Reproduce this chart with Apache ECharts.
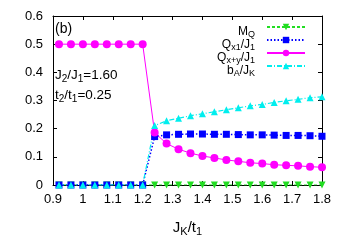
<!DOCTYPE html>
<html><head><meta charset="utf-8">
<script src="https://cdn.jsdelivr.net/npm/echarts@6/dist/echarts.min.js"></script>
<style>html,body{margin:0;padding:0;background:#fff}#c{width:346px;height:242px}</style>
</head><body><div id="c"></div>
<script>
var jk = [0.92,0.96,1.00,1.04,1.08,1.12,1.16,1.20,1.24,1.28,1.32,1.36,1.40,1.44,1.48,1.52,1.56,1.60,1.64,1.68,1.72,1.76,1.80];
var mQ = [0,0,0,0,0,0,0,0,0,0,0,0,0,0,0,0,0,0,0,0,0,0,0];
var qx1 = [0,0,0,0,0,0,0,0,0.172,0.178,0.180,0.181,0.181,0.180,0.180,0.179,0.178,0.178,0.177,0.176,0.176,0.175,0.173];
var qxy = [0.5,0.5,0.5,0.5,0.5,0.5,0.5,0.5,0.186,0.147,0.127,0.113,0.103,0.096,0.089,0.084,0.079,0.076,0.072,0.070,0.068,0.065,0.063];
var bA = [0,0,0,0,0,0,0,0,0.211,0.228,0.237,0.246,0.253,0.260,0.267,0.274,0.281,0.286,0.293,0.299,0.304,0.310,0.313];
var xTicks = {min:0.9, max:1.8, interval:0.1};
var yTicks = {min:0, max:0.6, interval:0.1};
var names = ['{n|M}{s|Q}','{n|Q}{s|x1}{n|/J}{s|1}','{n|Q}{s|x+y}{n|/J}{s|1}','{n|b}{s|A}{n|/J}{s|K}'];

function pairs(ys){ return jk.map(function(x,i){return [x, ys[i]];}); }
var FONT = 'Liberation Sans';
function mkRich(fs, sfs, drop){
  return {
    n:{fontSize:fs, lineHeight:fs, fontFamily:FONT, color:'#000', verticalAlign:'middle', padding:[1,0,0,0]},
    s:{fontSize:sfs, lineHeight:sfs, fontFamily:FONT, color:'#000', verticalAlign:'middle', padding:[drop,0,0,0]}
  };
}
var legRich = mkRich(12, 9, 7);
var txtRich = mkRich(13.5, 10, 8);
var chart = echarts.init(document.getElementById('c'), null, {renderer:'canvas'});
var series = [
  {name:names[0], type:'line', data:pairs(mQ), color:'#22dd22', symbol:'triangle', symbolRotate:180, symbolSize:7,
   lineStyle:{type:[3,2], width:1.2}},
  {name:names[1], type:'line', data:pairs(qx1), color:'#0000ff', symbol:'rect', symbolSize:7,
   lineStyle:{type:[1.5,2], width:1.5}},
  {name:names[2], type:'line', data:pairs(qxy), color:'#ff00ff', symbol:'circle', symbolSize:8,
   lineStyle:{type:'solid', width:1}},
  {name:names[3], type:'line', data:pairs(bA), color:'#00eeee', symbol:'triangle', symbolSize:7,
   lineStyle:{type:[5,2,1,2], width:1.2}}
];
series.forEach(function(s){ s.animation=false; s.showSymbol=true; s.symbolKeepAspect=true; s.itemStyle={opacity:1}; });
var legends = names.map(function(n,i){
  return {show:true, data:[n], orient:'vertical', right:40, top:23+i*13, align:'right',
    itemWidth:38, itemHeight:8, itemGap:0, padding:0, selectedMode:false,
    textStyle:{fontFamily:FONT, fontSize:12, color:'#000', rich:legRich, padding:[8,7,0,0]}};
});
chart.setOption({
  animation:false,
  backgroundColor:'#fff',
  grid:{left:53, right:24, top:16, bottom:57, containLabel:false, outerBoundsMode:'none'},
  legend:legends,
  xAxis:[
    {type:'value', min:xTicks.min, max:xTicks.max, interval:xTicks.interval, position:'bottom',
     axisLine:{show:true, onZero:false, lineStyle:{color:'#000', width:1}},
     axisTick:{show:true, inside:true, length:4, lineStyle:{color:'#000'}},
     axisLabel:{fontFamily:FONT, fontSize:13, color:'#000', margin:8},
     splitLine:{show:false},
     name:'{n|J}{s|K}{n|/t}{s|1}', nameLocation:'middle', nameGap:35,
     nameTextStyle:{fontFamily:FONT, fontSize:15, color:'#000', rich:mkRich(15, 11, 9)}},
    {type:'value', min:xTicks.min, max:xTicks.max, interval:xTicks.interval, position:'top',
     axisLine:{show:true, onZero:false, lineStyle:{color:'#000', width:1}},
     axisTick:{show:true, inside:true, length:4, lineStyle:{color:'#000'}},
     axisLabel:{show:false}, splitLine:{show:false}}
  ],
  yAxis:[
    {type:'value', min:yTicks.min, max:yTicks.max, interval:yTicks.interval, position:'left',
     axisLine:{show:true, onZero:false, lineStyle:{color:'#000', width:1}},
     axisTick:{show:true, inside:true, length:4, lineStyle:{color:'#000'}},
     axisLabel:{fontFamily:FONT, fontSize:13, color:'#000', margin:10,
       formatter:function(v){ return v===0 ? '0' : v.toFixed(1); }},
     splitLine:{show:false}},
    {type:'value', min:yTicks.min, max:yTicks.max, interval:yTicks.interval, position:'right',
     axisLine:{show:true, onZero:false, lineStyle:{color:'#000', width:1}},
     axisTick:{show:true, inside:true, length:4, lineStyle:{color:'#000'}},
     axisLabel:{show:false}, splitLine:{show:false}}
  ],
  graphic:[
    {type:'text', left:55, top:22, style:{text:'(b)', fontFamily:FONT, fontSize:14, fill:'#000'}},
    {type:'text', left:55, top:66, style:{text:'{n|J}{s|2}{n|/J}{s|1}{n|=1.60}', fontFamily:FONT, fontSize:13.5, fill:'#000', rich:txtRich}},
    {type:'text', left:55, top:86, style:{text:'{n|t}{s|2}{n|/t}{s|1}{n|=0.25}', fontFamily:FONT, fontSize:13.5, fill:'#000', rich:txtRich}}
  ],
  series:series
});
</script></body></html>
